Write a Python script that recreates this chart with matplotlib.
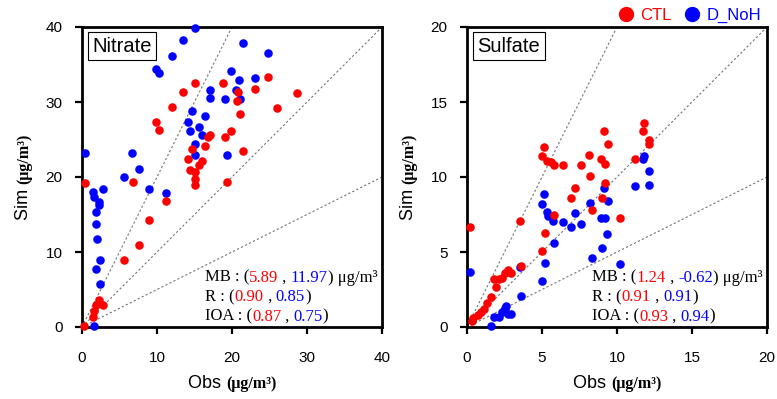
import matplotlib
matplotlib.use("Agg")
import matplotlib.pyplot as plt
from matplotlib.lines import Line2D
from matplotlib.offsetbox import TextArea, HPacker, VPacker, AnchoredOffsetbox

plt.rcParams['font.family'] = ['Liberation Sans', 'DejaVu Sans']

# Nitrate panel data (obs, sim)
nit_ctl_obs = [0.4, 15.1, 13.5, 18.8, 20.8, 20.6, 23.1, 24.8, 28.6, 26.0, 21.0, 12.0, 9.8, 10.3,
               17.0, 16.8, 19.9, 19.0, 14.6, 16.4, 14.1, 16.0, 15.6, 14.4, 15.0, 15.0, 15.0, 21.4,
               19.3, 6.8, 11.2, 8.9, 7.6, 5.6, 2.2, 2.8, 1.8, 1.6, 1.5, 0.2]
nit_ctl_sim = [19.2, 32.5, 31.4, 32.6, 31.3, 30.2, 31.8, 33.3, 31.2, 29.2, 28.4, 29.4, 27.4, 26.3,
               25.6, 25.4, 26.1, 25.4, 23.8, 24.2, 22.4, 22.2, 21.6, 20.9, 20.7, 19.8, 19.0, 23.5,
               19.4, 19.3, 16.8, 14.3, 10.9, 8.9, 3.6, 3.0, 2.9, 2.2, 1.4, 0.1]
nit_noh_obs = [15.1, 13.5, 12.0, 21.4, 24.8, 9.8, 10.3, 19.9, 20.9, 23.1, 17.0, 17.1, 19.0, 20.5,
               21.1, 14.7, 14.1, 16.4, 15.6, 14.4, 16.0, 15.0, 15.0, 19.3, 0.4, 6.7, 7.6, 5.6,
               8.9, 11.2, 1.5, 2.8, 1.6, 2.2, 2.3, 1.9, 1.9, 2.0, 2.4, 1.9, 2.4, 1.6]
nit_noh_sim = [39.9, 38.3, 36.1, 37.9, 36.5, 34.4, 33.9, 34.1, 33.0, 33.2, 31.6, 30.5, 30.4, 31.6,
               30.4, 28.8, 27.3, 28.1, 26.7, 26.2, 25.6, 24.4, 22.9, 22.9, 23.2, 23.2, 21.1, 20.0,
               18.4, 17.9, 18.0, 18.4, 17.3, 16.7, 16.3, 15.3, 13.8, 11.8, 8.9, 7.8, 5.8, 0.1]

# Sulfate panel data (obs, sim)
sul_ctl_obs = [0.2, 11.8, 11.7, 12.1, 12.1, 11.2, 9.1, 9.4, 8.9, 9.2, 8.1, 7.6, 6.4, 5.8, 5.6,
               5.3, 5.0, 5.1, 8.2, 9.2, 7.2, 6.9, 9.0, 8.3, 5.8, 10.2, 3.5, 5.2, 5.0, 3.6, 2.7,
               2.5, 2.3, 2.1, 1.8, 2.9, 1.9, 1.6, 1.3, 1.1, 0.9, 0.7, 0.4, 0.3]
sul_ctl_sim = [6.7, 13.6, 13.1, 12.5, 12.2, 11.2, 13.1, 12.2, 11.2, 10.9, 11.5, 10.8, 10.8, 10.8,
               11.0, 11.1, 11.4, 12.0, 10.1, 9.6, 9.3, 8.6, 8.6, 7.8, 7.5, 7.3, 7.1, 6.3, 5.1,
               4.1, 3.8, 3.6, 3.3, 3.2, 3.2, 3.6, 2.7, 2.0, 1.6, 1.2, 1.0, 0.8, 0.6, 0.4]
sul_noh_obs = [0.2, 11.8, 11.7, 12.1, 12.1, 11.2, 9.1, 9.4, 8.2, 5.1, 5.0, 5.3, 5.4, 5.7, 6.4,
               7.2, 6.9, 7.6, 8.9, 9.2, 9.3, 9.0, 8.3, 10.2, 5.8, 5.2, 5.0, 3.5, 3.6, 2.6, 2.5,
               2.9, 2.7, 2.3, 2.1, 1.8, 1.6]
sul_noh_sim = [3.7, 11.4, 11.2, 10.4, 9.5, 9.4, 9.3, 8.4, 8.3, 8.9, 8.2, 7.7, 7.4, 7.1, 7.0,
               7.6, 6.7, 6.9, 7.3, 7.3, 6.2, 5.3, 4.6, 4.2, 5.6, 4.3, 3.1, 4.0, 2.1, 1.4, 1.3,
               0.9, 0.9, 1.0, 0.7, 0.7, 0.1]

nit_stats = {'MB': ('5.89', '11.97'), 'R': ('0.90', '0.85'), 'IOA': ('0.87', '0.75')}
sul_stats = {'MB': ('1.24', '-0.62'), 'R': ('0.91', '0.91'), 'IOA': ('0.93', '0.94')}

RED = '#ff0000'
BLUE = '#0000ff'
UNIT = '(\u03bcg/m\u00b3)'
UNIT_STYLE = dict(fontsize=11.5, fontfamily='Liberation Serif', fontweight='bold')


def stats_box(ax, stats):
    serif = dict(fontfamily='Liberation Serif', fontsize=12)
    lines = []
    for key in ['MB', 'R', 'IOA']:
        a, b = stats[key]
        parts = [TextArea(key + ' : (', textprops=dict(color='black', **serif)),
                 TextArea(a, textprops=dict(color=RED, **serif)),
                 TextArea(' , ', textprops=dict(color='black', **serif)),
                 TextArea(b, textprops=dict(color=BLUE, **serif)),
                 TextArea(')' + (' \u03bcg/m\u00b3' if key == 'MB' else ''),
                          textprops=dict(color='black', **serif))]
        lines.append(HPacker(children=parts, sep=0, pad=0, align='baseline'))
    box = VPacker(children=lines, sep=2.5, pad=0, align='left')
    anch = AnchoredOffsetbox(loc='lower right', child=box, frameon=False, pad=0, borderpad=0,
                             bbox_to_anchor=(0.985, 0.008), bbox_transform=ax.transAxes)
    ax.add_artist(anch)


def axis_labels(fig, ax):
    # x label: "Obs" in sans + unit in bold serif
    xs = TextArea('Obs ', textprops=dict(fontsize=13))
    xu = TextArea(UNIT, textprops=UNIT_STYLE)
    xl = HPacker(children=[xs, xu], sep=0, pad=0, align='baseline')
    ax.add_artist(AnchoredOffsetbox(loc='upper center', child=xl, frameon=False, pad=0,
                                    borderpad=0, bbox_to_anchor=(0.5, -0.16),
                                    bbox_transform=ax.transAxes))
    # y label: rotated pieces laid end to end on a common baseline
    r = fig.canvas.get_renderer()
    t1 = ax.text(0, 0, 'Sim ', fontsize=13, rotation=90, rotation_mode='anchor',
                 ha='left', va='baseline', transform=ax.transAxes)
    t2 = ax.text(0, 0, UNIT, rotation=90, rotation_mode='anchor', ha='left',
                 va='baseline', transform=ax.transAxes, **UNIT_STYLE)
    h1 = t1.get_window_extent(r).height
    h2 = t2.get_window_extent(r).height
    axh = ax.get_window_extent(r).height
    base_x = -0.18
    y0 = 0.5 - (h1 + h2) / 2 / axh
    t1.set_position((base_x, y0))
    t2.set_position((base_x, y0 + h1 / axh))


def panel(fig, ax, ctl_x, ctl_y, noh_x, noh_y, lim, step, name, stats):
    ax.scatter(noh_x, noh_y, s=38, color=BLUE, clip_on=False, zorder=3, linewidths=0)
    ax.scatter(ctl_x, ctl_y, s=38, color=RED, clip_on=False, zorder=4, linewidths=0)
    for slope in [2, 1, 0.5]:
        ax.axline((0, 0), slope=slope, color='0.45', ls=(0, (2, 2)), lw=0.8, zorder=1)
    ax.set_xlim(0, lim)
    ax.set_ylim(0, lim)
    ticks = list(range(0, lim + 1, step))
    ax.set_xticks(ticks)
    ax.set_yticks(ticks)
    ax.tick_params(direction='out', length=5, width=1.6, labelsize=11)
    ax.tick_params(axis='x', pad=12)
    ax.tick_params(axis='y', pad=9)
    for sp in ax.spines.values():
        sp.set_linewidth(2)
    axis_labels(fig, ax)
    ax.text(0.035, 0.968, name, transform=ax.transAxes, ha='left', va='top', fontsize=14.5,
            bbox=dict(boxstyle='square,pad=0.22', fc='white', ec='black', lw=0.8), zorder=5)
    stats_box(ax, stats)


fig = plt.figure(figsize=(7.77, 3.99), dpi=100)
ax1 = fig.add_axes([82 / 777, 72 / 399, 300 / 777, 300 / 399])
ax2 = fig.add_axes([467 / 777, 72 / 399, 300 / 777, 300 / 399])

panel(fig, ax1, nit_ctl_obs, nit_ctl_sim, nit_noh_obs, nit_noh_sim, 40, 10, 'Nitrate', nit_stats)
panel(fig, ax2, sul_ctl_obs, sul_ctl_sim, sul_noh_obs, sul_noh_sim, 20, 5, 'Sulfate', sul_stats)

handles = [Line2D([], [], marker='o', ls='', color=RED, markersize=10),
           Line2D([], [], marker='o', ls='', color=BLUE, markersize=10)]
fig.legend(handles, ['CTL', 'D_NoH'], loc='center', bbox_to_anchor=(0.887, 0.962), ncol=2,
           frameon=False, labelcolor='markerfacecolor', handletextpad=0.35, columnspacing=0.75,
           fontsize=12, handlelength=1.0, borderpad=0)

fig.savefig('out.png', dpi=100)
